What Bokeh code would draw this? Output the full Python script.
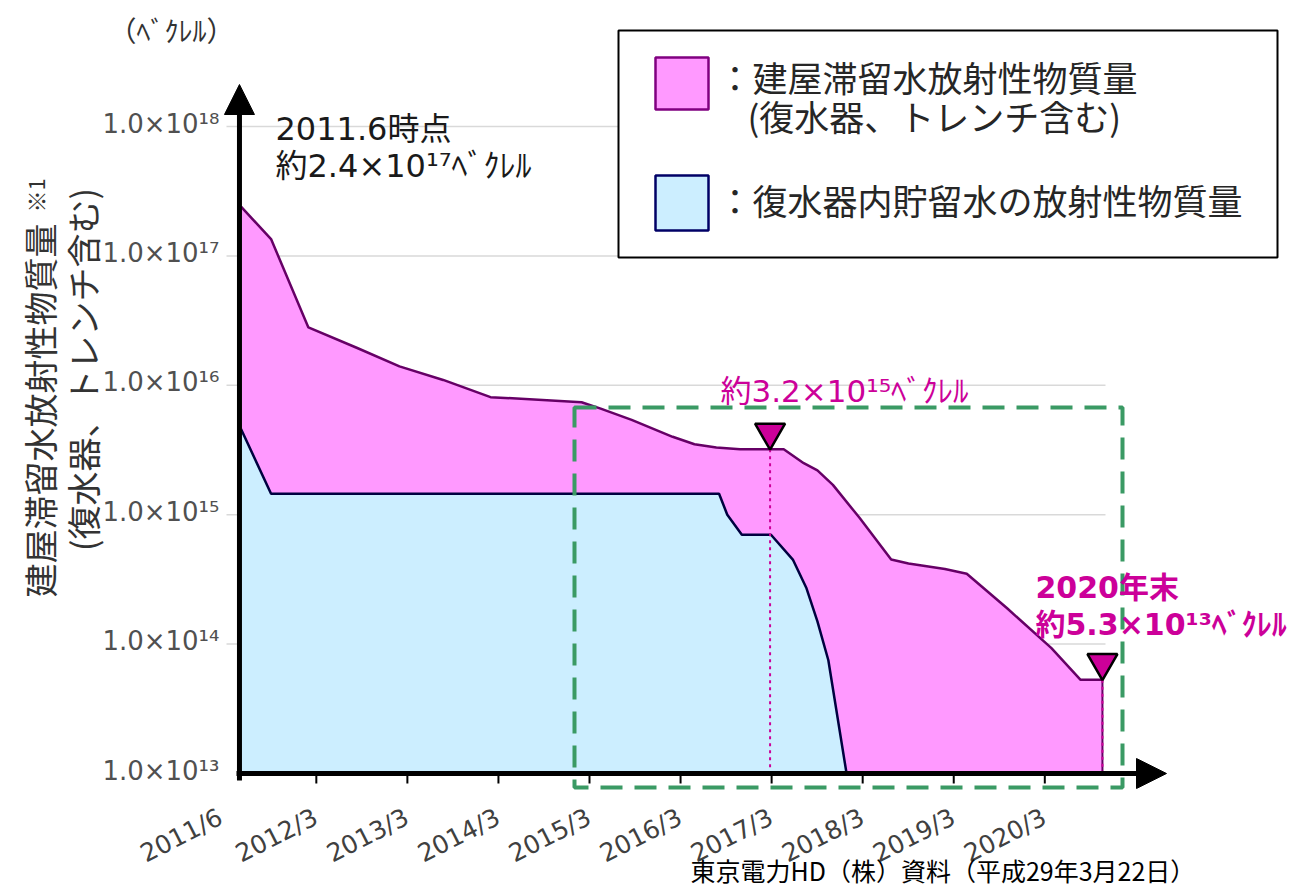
import numpy as np
from bokeh.plotting import figure
from bokeh.models import Range1d, Arrow, NormalHead
from bokeh.core.properties import value
from bokeh.embed import file_html
from bokeh.resources import INLINE

# ---------------- data ----------------
pink_year = [2011.34, 2011.67, 2012.08, 2012.61, 2013.08, 2013.56, 2014.08, 2015.08,
             2015.29, 2015.63, 2016.08, 2016.32, 2016.56, 2016.82, 2017.15, 2017.30,
             2017.52, 2017.67, 2017.84, 2018.13, 2018.48, 2018.67, 2019.07, 2019.31,
             2019.75, 2020.24, 2020.56, 2020.80]
pink_bq = [2.4e17, 1.35e17, 2.8e16, 1.95e16, 1.4e16, 1.1e16, 8.1e15, 7.4e15,
           6.6e15, 5.4e15, 4.0e15, 3.5e15, 3.3e15, 3.2e15, 3.2e15, 3.2e15,
           2.5e15, 2.2e15, 1.7e15, 9.5e14, 4.5e14, 4.2e14, 3.8e14, 3.5e14,
           1.9e14, 9.3e13, 5.3e13, 5.3e13]

blue_year = [2011.34, 2011.67, 2016.59, 2016.68, 2016.84, 2017.16, 2017.40, 2017.55,
             2017.67, 2017.79, 2017.99]
blue_bq = [4.6e15, 1.45e15, 1.45e15, 1.0e15, 7.0e14, 7.0e14, 4.5e14, 2.7e14,
           1.5e14, 7.5e13, 1.0e13]

x_tick_pos = [2011.12, 2012.167, 2013.167, 2014.167, 2015.167, 2016.167,
              2017.167, 2018.167, 2019.167, 2020.167]
x_tick_labels = ["2011/6", "2012/3", "2013/3", "2014/3", "2015/3", "2016/3",
                 "2017/3", "2018/3", "2019/3", "2020/3"]
y_tick_vals = [1e13, 1e14, 1e15, 1e16, 1e17, 1e18]
y_tick_labels = ["1.0×10¹³", "1.0×10¹⁴", "1.0×10¹⁵", "1.0×10¹⁶", "1.0×10¹⁷", "1.0×10¹⁸"]

peak_year, peak_bq = 2017.15, 3.2e15
end_year, end_bq = 2020.80, 5.3e13
base_bq = 1e13

start_texts = ["2011.6時点", "約2.4×10¹⁷ﾍﾞｸﾚﾙ"]
peak_text = "約3.2×10¹⁵ﾍﾞｸﾚﾙ"
end_texts = ["2020年末", "約5.3×10¹³ﾍﾞｸﾚﾙ"]
legend_texts = ["：建屋滞留水放射性物質量", "(復水器、トレンチ含む)", "：復水器内貯留水の放射性物質量"]
ytitle = ["建屋滞留水放射性物質量", "(復水器、トレンチ含む)"]
unit_text = "（ﾍﾞｸﾚﾙ）"
source_text = "東京電力HD（株）資料（平成29年3月22日）"

# ---------------- layout helpers (page pixel -> data) ----------------
W, H = 1293, 889
PX_PER_YEAR = 91.06
PX_PER_DEC = 129.4


def X(px):
    return 2015.167 + (px - 589) / PX_PER_YEAR


def Y(py):
    return 10 ** (13 + (773 - py) / PX_PER_DEC)


JP = value("Noto Sans CJK JP")
MIX = value("'DejaVu Sans', 'Noto Sans CJK JP'")
LAT = value("DejaVu Sans")

p = figure(width=W, height=H, x_range=Range1d(X(0), X(W)),
           y_range=Range1d(Y(H), Y(0)), y_axis_type="log",
           x_axis_location=None, y_axis_location=None,
           output_backend="svg", toolbar_location=None, min_border=0, title=None)
p.grid.grid_line_color = None
p.outline_line_color = None
p.background_fill_color = "white"
p.border_fill_color = "white"

axis_x = pink_year[0] - 0.017

# gridlines
p.segment(x0=X(226), x1=X(1105), y0=y_tick_vals[1:], y1=y_tick_vals[1:],
          line_color="#d9d9d9", line_width=1.5)

# areas
p.varea(x=pink_year, y1=base_bq, y2=pink_bq, fill_color="#ff99ff")
p.line(pink_year, pink_bq, line_color="#660066", line_width=2.5)
p.segment(x0=[end_year], y0=[end_bq], x1=[end_year], y1=[base_bq],
          line_color="#660066", line_width=2)
p.varea(x=blue_year, y1=base_bq, y2=blue_bq, fill_color="#cceeff")
p.line(blue_year, blue_bq, line_color="#000040", line_width=2.5)

# dotted markers
p.segment(x0=[peak_year, end_year], y0=[peak_bq, end_bq], x1=[peak_year, end_year],
          y1=[base_bq, base_bq], line_color="#cc0099", line_width=2, line_dash="3 4")

# green dashed box
p.quad(left=X(574), right=X(1122), bottom=Y(787), top=Y(407), fill_alpha=0,
       line_color="#3a9a64", line_width=4, line_dash="22 12")

# axes with arrows
p.add_layout(Arrow(end=NormalHead(size=30, fill_color="black", line_color="black"),
                   x_start=axis_x, y_start=Y(780), x_end=axis_x, y_end=Y(84),
                   line_width=5, line_color="black"))
p.add_layout(Arrow(end=NormalHead(size=30, fill_color="black", line_color="black"),
                   x_start=X(236), y_start=base_bq, x_end=X(1166), y_end=base_bq,
                   line_width=5, line_color="black"))

# tick marks
p.segment(x0=x_tick_pos[1:], x1=x_tick_pos[1:], y0=base_bq, y1=Y(783),
          line_color="black", line_width=2)

# triangles
tri_shift = 10 ** (17 / PX_PER_DEC)
p.scatter(x=[peak_year, end_year], y=[peak_bq * tri_shift, end_bq * tri_shift],
          marker="inverted_triangle", size=30, fill_color="#cc0099",
          line_color="black", line_width=2.5)

# tick labels
p.text(x=[axis_x] * len(y_tick_vals), y=y_tick_vals, text=y_tick_labels,
       x_offset=-20, y_offset=-3, text_align="right", text_baseline="middle",
       text_font=LAT, text_font_size="26px", text_color="#505050")
p.text(x=x_tick_pos, y=[base_bq] * len(x_tick_pos), text=x_tick_labels,
       x_offset=-7, y_offset=29, angle=0.47, text_align="right", text_baseline="top",
       text_font=LAT, text_font_size="25px", text_color="#404040")

# y title
p.text(x=[X(39), X(82)], y=[Y(410), Y(369)], text=ytitle, angle=np.pi / 2,
       text_align="center", text_baseline="middle", text_font=JP,
       text_font_size="34px", text_color="#333333")
p.text(x=[X(34)], y=[Y(195)], text=["※1"], angle=np.pi / 2, text_align="center",
       text_baseline="middle", text_font=JP, text_font_size="22px", text_color="#333333")
p.text(x=[X(108)], y=[Y(29)], text=[unit_text], text_align="left", text_baseline="middle",
       text_font=JP, text_font_size="28px", text_color="#333333")

# annotations
p.text(x=[X(275), X(275)], y=[Y(128), Y(165)], text=start_texts, text_align="left",
       text_baseline="middle", text_font=MIX, text_font_size="32px", text_color="#1a1a1a")
p.text(x=[X(720)], y=[Y(390)], text=[peak_text], text_align="left", text_baseline="middle",
       text_font=MIX, text_font_size="31px", text_color="#cc0099")
p.text(x=[X(1035), X(1035)], y=[Y(587), Y(624)], text=end_texts, text_align="left",
       text_baseline="middle", text_font=MIX, text_font_size="30px", text_color="#cc0099",
       text_font_style="bold")

# legend
p.quad(left=X(618), right=X(1277), top=Y(30), bottom=Y(257), fill_color="white",
       line_color="black", line_width=2)
p.quad(left=X(655), right=X(708), top=Y(57), bottom=Y(109), fill_color="#ff99ff",
       line_color="#800080", line_width=2.5)
p.quad(left=X(655), right=X(708), top=Y(175), bottom=Y(230), fill_color="#cceeff",
       line_color="#000066", line_width=2.5)
p.text(x=[X(717), X(747), X(717)], y=[Y(76), Y(115), Y(199)], text=legend_texts,
       text_align="left", text_baseline="middle", text_font=JP, text_font_size="35px",
       text_color="#262626")

# source
p.text(x=[X(690)], y=[Y(869)], text=[source_text], text_align="left",
       text_baseline="middle", text_font=JP, text_font_size="25px", text_color="black")

open("out.html", "w").write(file_html(p, INLINE))
